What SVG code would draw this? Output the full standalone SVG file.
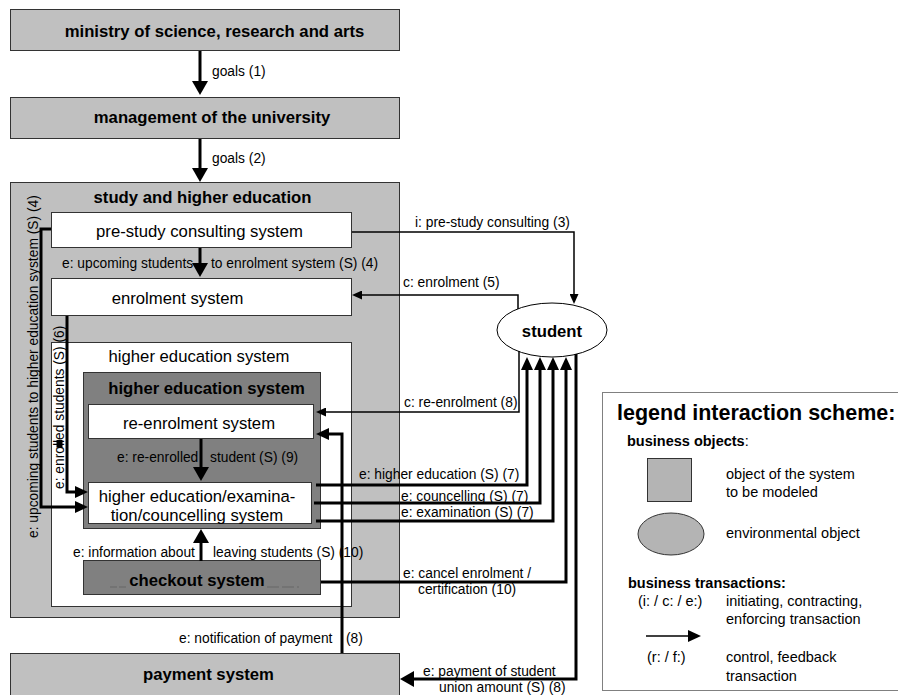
<svg xmlns="http://www.w3.org/2000/svg" width="898" height="695" viewBox="0 0 898 695">
<defs>
<style>
text{font-family:"Liberation Sans",Arial,sans-serif;fill:#000}
.box{fill:#c0c0c0;stroke:#333;stroke-width:1}
.wbox{fill:#fff;stroke:#333;stroke-width:1}
.dbox{fill:#808080;stroke:#333;stroke-width:1}
.bt{font-size:16.7px;font-weight:bold;text-anchor:middle}
.rt{font-size:16.7px;text-anchor:middle}
.lb{font-size:13.8px}
.lg{font-size:14.5px}
.thick{fill:none;stroke:#000;stroke-width:3}
.thin{fill:none;stroke:#000;stroke-width:1.5}
</style>
<marker id="big" markerUnits="userSpaceOnUse" viewBox="0 0 14 16" refX="1" refY="8" markerWidth="14" markerHeight="16" orient="auto"><path d="M0,0 L14,8 L0,16 z" fill="#000"/></marker>
<marker id="mid" markerUnits="userSpaceOnUse" viewBox="0 0 13 12" refX="1" refY="6" markerWidth="13" markerHeight="12" orient="auto"><path d="M0,0 L13,6 L0,12 z" fill="#000"/></marker>
<marker id="small" markerUnits="userSpaceOnUse" viewBox="0 0 10 9" refX="1" refY="4.5" markerWidth="10" markerHeight="9" orient="auto"><path d="M0,0 L10,4.5 L0,9 z" fill="#000"/></marker>
</defs>
<rect width="898" height="695" fill="#fff"/>

<g id="ministry">
<rect class="box" x="10.5" y="9.5" width="389" height="41"/>
<text class="bt" x="214.5" y="37">ministry of science, research and arts</text>
</g>
<g id="management">
<rect class="box" x="10.5" y="97.5" width="389" height="41"/>
<text class="bt" x="212" y="123">management of the university</text>
</g>
<g id="study">
<rect class="box" x="10.5" y="182.5" width="389" height="435"/>
<text class="bt" x="202.5" y="203">study and higher education</text>
</g>
<g id="prestudy">
<rect class="wbox" x="51.5" y="212.5" width="300" height="35"/>
<text class="rt" x="199.5" y="237">pre-study consulting system</text>
</g>
<g id="enrolment">
<rect class="wbox" x="51.5" y="278.5" width="300" height="37"/>
<text class="rt" x="177.5" y="304">enrolment system</text>
</g>
<g id="higher-ed-outer">
<rect class="wbox" x="51.5" y="342.5" width="300" height="264"/>
<text class="rt" x="199" y="362">higher education system</text>
</g>
<g id="higher-ed-inner">
<rect class="dbox" x="83.5" y="372.5" width="237" height="156"/>
<text class="bt" x="206.5" y="394">higher education system</text>
</g>
<g id="reenrolment">
<rect class="wbox" x="88.5" y="404.5" width="225" height="34"/>
<text class="rt" x="199" y="429">re-enrolment system</text>
</g>
<g id="hedu">
<rect class="wbox" x="88.5" y="482.5" width="223" height="41"/>
<text class="rt" x="197" y="502">higher education/examina-</text>
<text class="rt" x="197" y="521">tion/councelling system</text>
</g>
<g id="checkout">
<rect class="dbox" x="83.5" y="560.5" width="237" height="34"/>
<line x1="110" y1="587" x2="128" y2="587" stroke="#666" stroke-width="1" stroke-dasharray="7,2"/>
<line x1="267" y1="587" x2="299" y2="587" stroke="#666" stroke-width="1" stroke-dasharray="12,3"/>
<text class="bt" x="197" y="586">checkout system</text>
</g>
<g id="payment">
<rect class="box" x="10.5" y="653.5" width="389" height="50"/>
<text class="bt" x="208.5" y="680">payment system</text>
</g>
<g id="student">
<ellipse cx="552" cy="330" rx="55" ry="27" fill="#fff" stroke="#000" stroke-width="1"/>
<text class="bt" x="552" y="337">student</text>
</g>

<g id="connectors">
<line class="thick" x1="200" y1="51" x2="200" y2="82" marker-end="url(#big)"/>
<text class="lb" x="212" y="76">goals (1)</text>
<line class="thick" x1="200" y1="139" x2="200" y2="169" marker-end="url(#big)"/>
<text class="lb" x="212" y="163">goals (2)</text>

<line class="thick" x1="200" y1="248" x2="200" y2="264" marker-end="url(#big)"/>
<text class="lb" x="62" y="268">e: upcoming students</text>
<text class="lb" x="211" y="268">to enrolment system (S) (4)</text>

<polyline class="thick" points="51,229 41,229 41,507 76,507" marker-end="url(#mid)"/>
<text class="lb" transform="translate(38,538) rotate(-90)">e: upcoming students to higher education system (S) (4)</text>
<polyline class="thick" points="67,316 67,492 76,492" marker-end="url(#mid)"/>
<text class="lb" transform="translate(63.5,489) rotate(-90)">e: enrolled students (S) (6)</text>
<rect x="56.5" y="440" width="6" height="7.5" fill="#000"/>

<line class="thick" x1="201" y1="439" x2="201" y2="468" marker-end="url(#big)"/>
<text class="lb" x="117" y="462">e: re-enrolled</text>
<text class="lb" x="210" y="462">student (S) (9)</text>

<line class="thick" x1="201" y1="561" x2="201" y2="542" marker-end="url(#big)"/>
<text class="lb" x="73" y="557">e: information about</text>
<text class="lb" x="213" y="557">leaving students (S) (10)</text>

<polyline class="thin" points="352,232 574,232 574,295" marker-end="url(#small)"/>
<text class="lb" x="415" y="227">i: pre-study consulting (3)</text>
<polyline class="thin" points="518,309 518,295 361,295" marker-end="url(#small)"/>
<text class="lb" x="403" y="287">c: enrolment (5)</text>
<polyline class="thin" points="519,351 519,412 325,412" marker-end="url(#small)"/>
<text class="lb" x="404" y="407">c: re-enrolment (8)</text>

<polyline class="thick" points="342,653 342,434 328,434" marker-end="url(#mid)"/>
<text class="lb" x="179" y="643">e: notification of payment</text>
<text class="lb" x="346" y="643">(8)</text>

<polyline class="thick" points="316,485 527,485 527,369" marker-end="url(#mid)"/>
<text class="lb" x="359" y="479">e: higher education (S) (7)</text>
<polyline class="thick" points="314,503 540,503 540,369" marker-end="url(#mid)"/>
<text class="lb" x="401" y="501">e: councelling (S) (7)</text>
<polyline class="thick" points="316,521 553,521 553,369" marker-end="url(#mid)"/>
<text class="lb" x="401" y="517">e: examination (S) (7)</text>
<polyline class="thick" points="321,582 566,582 566,369" marker-end="url(#mid)"/>
<text class="lb" x="403" y="578">e: cancel enrolment /</text>
<text class="lb" x="418" y="594">certification (10)</text>

<polyline class="thick" points="576,354 576,679 413,679" marker-end="url(#big)"/>
<text class="lb" x="423" y="676">e: payment of student</text>
<text class="lb" x="439" y="692">union amount (S) (8)</text>
</g>

<g id="legend">
<rect x="602.5" y="392.5" width="300" height="298" fill="#fff" stroke="#808080" stroke-width="1"/>
<text x="617" y="420" style="font-size:21.5px;font-weight:bold">legend interaction scheme:</text>
<text class="lg" x="627" y="446"><tspan font-weight="bold">business objects</tspan>:</text>
<rect x="647.5" y="458.5" width="44" height="43" fill="#b4b4b4" stroke="#333"/>
<text class="lg" x="726" y="479">object of the system</text>
<text class="lg" x="726" y="497">to be modeled</text>
<ellipse cx="671" cy="534" rx="33" ry="21" fill="#b4b4b4" stroke="#333"/>
<text class="lg" x="726" y="538">environmental object</text>
<text class="lg" x="628" y="588" font-weight="bold">business transactions:</text>
<text class="lg" x="638" y="606">(i: / c: / e:)</text>
<text class="lg" x="726" y="606">initiating, contracting,</text>
<text class="lg" x="726" y="624">enforcing transaction</text>
<line class="thin" x1="646" y1="636" x2="689" y2="636" marker-end="url(#mid)"/>
<text class="lg" x="647" y="662">(r: / f:)</text>
<text class="lg" x="726" y="662">control, feedback</text>
<text class="lg" x="726" y="681">transaction</text>
</g>
</svg>
